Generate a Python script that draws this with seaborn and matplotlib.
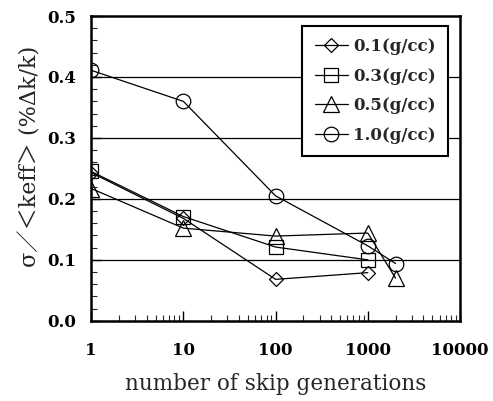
import numpy as np
import pandas as pd
import matplotlib
matplotlib.use('Agg')
import matplotlib.pyplot as plt
import matplotlib.ticker as mticker
import seaborn as sns

# data
densities = ['0.1(g/cc)', '0.3(g/cc)', '0.5(g/cc)', '1.0(g/cc)']
gen_01 = [1, 10, 100, 1000]
val_01 = [0.243, 0.168, 0.068, 0.079]
gen_03 = [1, 10, 100, 1000]
val_03 = [0.245, 0.171, 0.121, 0.100]
gen_05 = [1, 10, 100, 1000, 2000]
val_05 = [0.217, 0.152, 0.139, 0.144, 0.070]
gen_10 = [1, 10, 100, 1000, 2000]
val_10 = [0.411, 0.360, 0.205, 0.123, 0.094]

rows = []
for name, g, v in zip(densities, [gen_01, gen_03, gen_05, gen_10],
                      [val_01, val_03, val_05, val_10]):
    for gi, vi in zip(g, v):
        rows.append({'gen': gi, 'val': vi, 'density': name})
df = pd.DataFrame(rows)

sns.set_style('white')
plt.rcParams['font.family'] = ['DejaVu Serif', 'Noto Sans CJK JP', 'DejaVu Sans']

fig = plt.figure(figsize=(4.93, 4.01), dpi=100)
ax = fig.add_axes([0.185, 0.2, 0.748, 0.76])

markers = {'0.1(g/cc)': 'D', '0.3(g/cc)': 's', '0.5(g/cc)': '^', '1.0(g/cc)': 'o'}
sizes_ms = {'0.1(g/cc)': 7.5, '0.3(g/cc)': 10, '0.5(g/cc)': 11, '1.0(g/cc)': 10.5}

for name in densities:
    sub = df[df['density'] == name]
    sns.lineplot(data=sub, x='gen', y='val', ax=ax, color='black', lw=0.9,
                 marker=markers[name], markersize=sizes_ms[name],
                 markerfacecolor='none', markeredgecolor='black',
                 markeredgewidth=0.9, label=name, legend=False, zorder=3)

ax.set_xscale('log')
ax.set_xlim(1, 10000)
ax.set_ylim(0, 0.5)
ax.set_xticks([1, 10, 100, 1000, 10000])
ax.xaxis.set_major_formatter(mticker.FuncFormatter(lambda v, p: f'{int(v)}'))
ax.xaxis.set_minor_locator(mticker.LogLocator(base=10, subs=np.arange(2, 10)))
ax.set_yticks([0.0, 0.1, 0.2, 0.3, 0.4, 0.5])
ax.yaxis.set_major_formatter(mticker.FormatStrFormatter('%.1f'))
ax.yaxis.set_minor_locator(mticker.MultipleLocator(0.02))

ax.tick_params(axis='both', which='major', direction='in', length=7, width=1,
               labelsize=12, colors='black')
ax.tick_params(axis='x', which='major', pad=15)
ax.tick_params(axis='y', which='major', pad=11)
ax.tick_params(axis='both', which='minor', direction='in', length=4, width=0.8)
ax.tick_params(left=True, bottom=True, right=False, top=False, which='both')
for lbl in ax.get_xticklabels() + ax.get_yticklabels():
    lbl.set_fontweight('bold')

for yv in [0.1, 0.2, 0.3, 0.4]:
    ax.axhline(yv, color='black', lw=0.9, zorder=1)

for sp in ax.spines.values():
    sp.set_color('black')
    sp.set_linewidth(1.8)

ax.set_xlabel('number of skip generations', fontsize=15.5, labelpad=10)
ax.set_ylabel('σ／＜keff＞ (%Δk/k)', fontsize=16)
ax.yaxis.set_label_coords(-0.135, 0.54)

leg = ax.legend(loc='upper right', bbox_to_anchor=(0.968, 0.968),
                prop={'size': 12, 'weight': 'bold'},
                frameon=True, fancybox=False, edgecolor='black', framealpha=1,
                handlelength=2.0, handletextpad=0.3, borderpad=0.75, labelspacing=0.75,
                borderaxespad=0)
leg.get_frame().set_linewidth(1.5)
leg.set_zorder(5)

fig.savefig('out.png', dpi=100)
